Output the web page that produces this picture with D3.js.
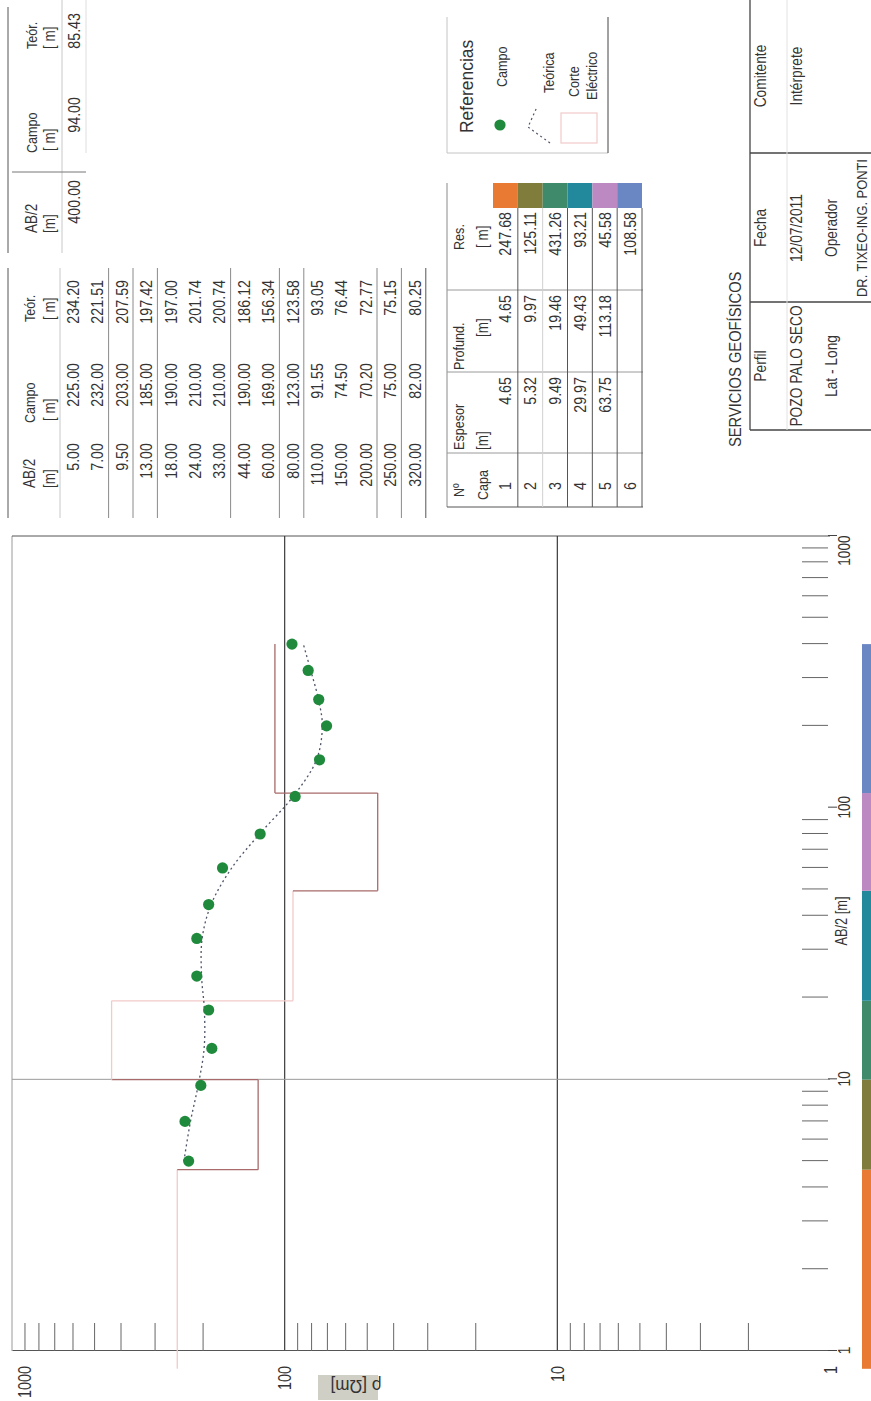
<!DOCTYPE html>
<html>
<head>
<meta charset="utf-8">
<script src="https://cdn.jsdelivr.net/npm/d3@7/dist/d3.min.js"></script>
<style>
  html, body { margin: 0; padding: 0; background: #fff; }
  svg { display: block; font-family: "Liberation Sans", Arial, sans-serif; }
</style>
</head>
<body>
<script>
// ---- Sondeo eléctrico vertical: datos de campo y modelo ----
const AB2       = [5, 7, 9.5, 13, 18, 24, 33, 44, 60, 80, 110, 150, 200, 250, 320, 400];
const rhoCampo  = [225, 232, 203, 185, 190, 210, 210, 190, 169, 123, 91.55, 74.5, 70.2, 75, 82, 94];
const rhoTeor   = [234.20, 221.51, 207.59, 197.42, 197.00, 201.74, 200.74, 186.12, 156.34, 123.58,
                   93.05, 76.44, 72.77, 75.15, 80.25, 85.43];
// AB/2 after which the field table shows a separator (empalmes)
const tramosAB2 = [7, 9.5, 13, 33, 60, 80, 200, 250];

const capas     = [1, 2, 3, 4, 5, 6];
const espesor   = [4.65, 5.32, 9.49, 29.97, 63.75, null];
const profund   = [4.65, 9.97, 19.46, 49.43, 113.18, null];
const resist    = [247.68, 125.11, 431.26, 93.21, 45.58, 108.58];
const inicioModelo = 0.86;   // AB/2 where the layered model starts

const ticksRho  = [1, 10, 100, 1000];
const ticksAB2  = [1, 10, 100, 1000];

const titulo    = "SERVICIOS GEOFÍSICOS";
const rotulo    = [
  ["Perfil", "POZO PALO SECO", "Lat - Long", ""],
  ["Fecha", "12/07/2011", "Operador", "DR. TIXEO-ING. PONTI"],
  ["Comitente", "Intérprete", "", ""]
];

// ---- styles ----
const colCapas = ["#e87a33", "#807c3b", "#3f8a6b", "#22899c", "#bd89c2", "#6a86c3"];
const capasOscuras = [2, 5, 6];
const cText = "#333";
const FONT = '"Liberation Sans", Arial, sans-serif';

const W = 871, H = 1401;
const svg = d3.select("body").append("svg")
  .attr("width", W).attr("height", H)
  .attr("viewBox", `0 0 ${W} ${H}`);
svg.append("rect").attr("width", W).attr("height", H).attr("fill", "#fff");

// the sheet is laid out in landscape (1401 x 871) and turned a quarter to the left
const L = svg.append("g").attr("transform", `translate(0,${H}) rotate(-90)`);

function txt(g, X, Y, s, o = {}) {
  const sx = o.sx ?? 0.84;
  const rot = o.rot ? ` rotate(${o.rot})` : "";
  return g.append("text")
    .attr("transform", `translate(${X},${Y})${rot} scale(${sx},1)`)
    .attr("text-anchor", o.anchor || "start")
    .attr("font-size", o.size || 16)
    .attr("font-family", FONT)
    .attr("fill", o.fill || cText)
    .text(s);
}
function ln(g, x1, y1, x2, y2, stroke, w = 1) {
  return g.append("line").attr("x1", x1).attr("y1", y1).attr("x2", x2).attr("y2", y2)
    .attr("stroke", stroke).attr("stroke-width", w);
}
const f2 = d3.format(".2f");

// ---- chart ----
const x = d3.scaleLog().domain([1, 1000]).range([50, 865]);
const y = d3.scaleLog().domain([1, 1000]).range([830, 12]);

const chart = L.append("g");

// frame and grid
ln(chart, x(1), y(1000), x(1000), y(1000), "#9a9a9a");
ln(chart, x(1000), y(1000), x(1000), y(1), "#555");
[100, 10].forEach(v => ln(chart, x(1), y(v), x(1000), y(v), "#3a3a3a", 1.2));
ln(chart, x(10), y(1000), x(10), y(1), "#9a9a9a");

// minor log ticks
const minors = [];
[1, 10, 100].forEach(d => { for (let k = 2; k <= 9; k++) minors.push(k * d); });

const axRho = d3.axisLeft(y)
  .tickValues([...minors, ...ticksRho])
  .tickSizeInner(-28).tickSizeOuter(0).tickPadding(15)
  .tickFormat(d => ticksRho.includes(d) ? String(d) : "");
const gRho = chart.append("g").attr("transform", `translate(${x(1)},0)`).call(axRho);
gRho.select(".domain").attr("stroke", "#555");
gRho.selectAll(".tick line").attr("stroke", "#666")
  .filter(d => ticksRho.includes(d)).remove();
gRho.selectAll(".tick text")
  .attr("fill", cText).attr("font-size", 18).attr("font-family", FONT)
  .attr("x", null)
  .attr("dy", d => d === 1000 ? "1.05em" : "0.34em")
  .attr("transform", "translate(-15,0) scale(0.8,1)");

const axAB = d3.axisBottom(x)
  .tickValues([...minors, ...ticksAB2])
  .tickSizeInner(-26).tickSizeOuter(0).tickPadding(10)
  .tickFormat(d => ticksAB2.includes(d) ? String(d) : "");
const gAB = chart.append("g").attr("transform", `translate(0,${y(1) - 2})`).call(axAB);
gAB.select(".domain").remove();
gAB.selectAll(".tick line").attr("stroke", "#666")
  .filter(d => ticksAB2.includes(d)).attr("y2", 9).attr("stroke", "#444");
gAB.selectAll(".tick text")
  .attr("fill", cText).attr("font-size", 17).attr("font-family", FONT)
  .attr("text-anchor", d => d === 1000 ? "end" : "middle")
  .attr("transform", "scale(0.8,1)");

// axis titles
txt(chart, 480, 847, "AB/2 [m]", { anchor: "middle", size: 16, sx: 0.8 });
chart.append("rect").attr("x", 1).attr("y", 318).attr("width", 25).attr("height", 60)
  .attr("fill", "#cfcfc6");
txt(chart, 21, 356, "ρ [Ωm]", { anchor: "middle", size: 18, sx: 0.95, rot: -90 });

// layered model (corte eléctrico)
const segs = [];
let prev = [inicioModelo, resist[0]];
resist.forEach((r, i) => {
  const hasta = i < resist.length - 1 ? profund[i] : AB2[AB2.length - 1];
  segs.push({ a: [prev[0], r], b: [hasta, r], dark: capasOscuras.includes(i + 1) });
  if (i < resist.length - 1) {
    const dk = capasOscuras.includes(i + 1) || capasOscuras.includes(i + 2);
    segs.push({ a: [hasta, r], b: [hasta, resist[i + 1]], dark: dk });
  }
  prev = [hasta, r];
});
const gCorte = chart.append("g");
segs.forEach(s => {
  ln(gCorte, x(s.a[0]), y(s.a[1]), x(s.b[0]), y(s.b[1]), s.dark ? "#a86a6a" : "#f3caca", 1.3);
});

// theoretical curve
const linea = d3.line()
  .x((d, i) => x(AB2[i])).y(d => y(d))
  .curve(d3.curveCatmullRom);
chart.append("path").datum(rhoTeor)
  .attr("d", linea).attr("fill", "none")
  .attr("stroke", "#4d5566").attr("stroke-width", 1.3).attr("stroke-dasharray", "2,3");

// field points
chart.append("g").selectAll("circle").data(rhoCampo).join("circle")
  .attr("cx", (d, i) => x(AB2[i])).attr("cy", d => y(d)).attr("r", 5.6)
  .attr("fill", "#1f8a3c");

// layer colour strip along the AB/2 axis
chart.append("g").selectAll("rect").data(resist).join("rect")
  .attr("x", (d, i) => x(i === 0 ? inicioModelo : profund[i - 1]))
  .attr("width", (d, i) => x(i < resist.length - 1 ? profund[i] : AB2[AB2.length - 1]) - x(i === 0 ? inicioModelo : profund[i - 1]))
  .attr("y", 862).attr("height", 20)
  .attr("fill", (d, i) => colCapas[i]);

// ---- field data table ----
const tab = L.append("g");
const nFil = 15;
const rowY = i => 72 + i * 24.4;
ln(tab, 883, 8, 1133, 8, "#555");
ln(tab, 883, 60, 1133, 60, "#c8c8c8");
txt(tab, 913, 35, "AB/2", { size: 16 });
txt(tab, 913, 55, "[m]", { size: 16 });
txt(tab, 978, 35, "Campo", { size: 15 });
txt(tab, 980, 55, "[  m]", { size: 16 });
txt(tab, 1079, 35, "Teór.", { size: 15 });
txt(tab, 1081, 55, "[  m]", { size: 16 });
AB2.slice(0, nFil).forEach((a, i) => {
  const yy = rowY(i) + 7;
  txt(tab, 958, yy, f2(a), { anchor: "end", size: 17 });
  txt(tab, 1038, yy, f2(rhoCampo[i]), { anchor: "end", size: 17 });
  txt(tab, 1121, yy, f2(rhoTeor[i]), { anchor: "end", size: 17 });
  if (tramosAB2.includes(a)) ln(tab, 883, rowY(i) + 12.2, 1133, rowY(i) + 12.2, "#8a8a8a");
});
ln(tab, 883, rowY(nFil - 1) + 12.2, 1133, rowY(nFil - 1) + 12.2, "#555");

// continuation table (last reading)
const tab2 = L.append("g");
ln(tab2, 1148, 8, 1394, 8, "#555");
ln(tab2, 1148, 62, 1401, 62, "#c8c8c8");
ln(tab2, 1229, 12, 1229, 86, "#777");
ln(tab2, 1248, 86, 1401, 86, "#dedede");
txt(tab2, 1168, 37, "AB/2", { size: 16 });
txt(tab2, 1168, 55, "[m]", { size: 16 });
txt(tab2, 1248, 37, "Campo", { size: 15 });
txt(tab2, 1250, 55, "[  m]", { size: 16 });
txt(tab2, 1352, 37, "Teór.", { size: 15 });
txt(tab2, 1352, 55, "[  m]", { size: 16 });
AB2.slice(nFil).forEach((a, j) => {
  const i = nFil + j;
  txt(tab2, 1221, 80, f2(a), { anchor: "end", size: 17 });
  txt(tab2, 1304, 80, f2(rhoCampo[i]), { anchor: "end", size: 17 });
  txt(tab2, 1388, 80, f2(rhoTeor[i]), { anchor: "end", size: 17 });
});

// ---- layer table ----
const tc = L.append("g");
const band = d3.scaleBand().domain(capas).range([493, 642]);
ln(tc, 894, 447, 1218, 447, "#8a8a8a");
ln(tc, 894, 447, 894, 643, "#555");
[948, 1029, 1111].forEach(X => ln(tc, X, 447, X, 643, "#9a9a9a"));
capas.forEach((c, i) => {
  const yb = band(c) + band.bandwidth();
  ln(tc, 894, yb, 1193, yb, i === 1 ? "#d0d0d0" : "#555");
});
txt(tc, 904, 464, "Nº", { size: 15 });
txt(tc, 901, 488, "Capa", { size: 15 });
txt(tc, 951, 464, "Espesor", { size: 15 });
txt(tc, 951, 488, "[m]", { size: 16 });
txt(tc, 1031, 464, "Profund.", { size: 15 });
txt(tc, 1064, 488, "[m]", { size: 16 });
txt(tc, 1151, 464, "Res.", { size: 15 });
txt(tc, 1153, 488, "[  m]", { size: 16 });
capas.forEach((c, i) => {
  const yy = band(c) + band.bandwidth() / 2 + 6;
  txt(tc, 911, yy, String(c), { size: 17 });
  if (espesor[i] != null) txt(tc, 1024, yy, f2(espesor[i]), { anchor: "end", size: 17 });
  if (profund[i] != null) txt(tc, 1106, yy, f2(profund[i]), { anchor: "end", size: 17 });
  txt(tc, 1189, yy, f2(resist[i]), { anchor: "end", size: 17 });
});
tc.selectAll("rect.sw").data(capas).join("rect").attr("class", "sw")
  .attr("x", 1193).attr("width", 25)
  .attr("y", d => band(d)).attr("height", band.bandwidth())
  .attr("fill", (d, i) => colCapas[i]);

// ---- legend ----
const lg = L.append("g");
ln(lg, 1248, 447, 1384, 447, "#c4c4c4");
ln(lg, 1248, 447, 1248, 608, "#c4c4c4");
ln(lg, 1248, 608, 1384, 608, "#444");
txt(lg, 1268, 473, "Referencias", { size: 19, sx: 0.92 });
lg.append("circle").attr("cx", 1276).attr("cy", 500).attr("r", 5.6).attr("fill", "#1f8a3c");
txt(lg, 1314, 507, "Campo", { size: 15 });
lg.append("path").attr("d", "M1258,550L1274,528L1294,537").attr("fill", "none")
  .attr("stroke", "#4d5566").attr("stroke-width", 1.2).attr("stroke-dasharray", "2,3");
txt(lg, 1308, 554, "Teórica", { size: 15 });
lg.append("rect").attr("x", 1258).attr("y", 561).attr("width", 30).attr("height", 36)
  .attr("fill", "none").attr("stroke", "#f3caca").attr("stroke-width", 1.2);
txt(lg, 1304, 579, "Corte", { size: 15 });
txt(lg, 1301, 597, "Eléctrico", { size: 15 });

// ---- title block ----
const tb = L.append("g");
txt(tb, 954, 741, titulo, { size: 16, sx: 0.92 });
ln(tb, 971, 750, 1401, 750, "#444", 1.3);
[971, 1099, 1248].forEach(X => ln(tb, X, 750, X, 871, "#444", 1.3));
ln(tb, 971, 787, 1401, 787, "#e2e2e2");
const colC = [1035, 1173, 1325];
const filaY = [766, 802, 837, 867];
rotulo.forEach((col, ci) => col.forEach((s, ri) => {
  if (s) txt(tb, colC[ci], filaY[ri], s, { anchor: "middle", size: ri === 3 ? 15 : 16, sx: 0.86 });
}));
</script>
</body>
</html>
